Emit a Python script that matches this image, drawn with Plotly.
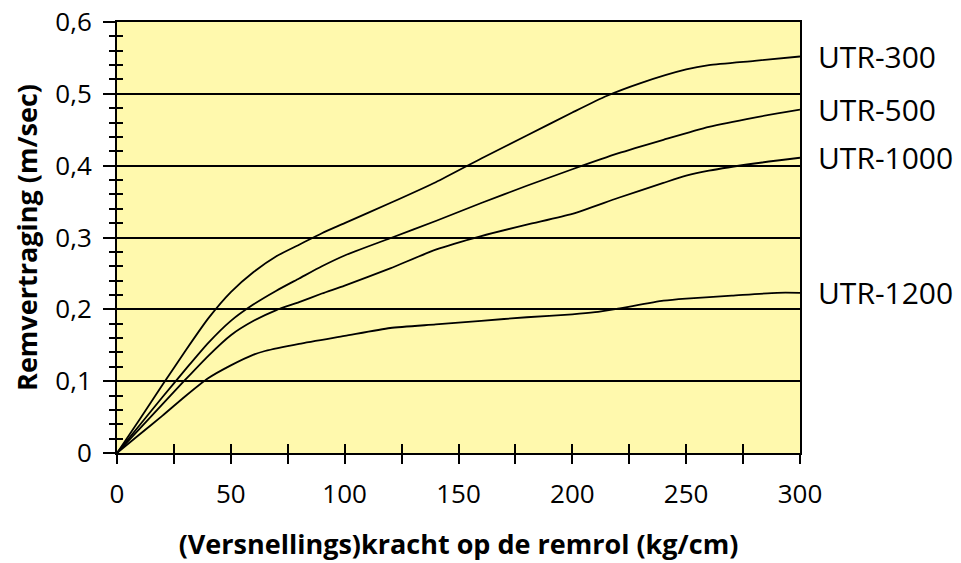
import plotly.graph_objects as go

x_utr300 = [0, 10, 20, 30, 40, 50, 60, 70, 80, 90, 100, 120, 140, 160, 180, 200, 215, 230, 250, 260, 280, 300]
y_utr300 = [0, 0.047, 0.095, 0.142, 0.187, 0.224, 0.252, 0.274, 0.290, 0.306, 0.320, 0.348, 0.377, 0.410, 0.442, 0.474, 0.497, 0.515, 0.534, 0.540, 0.546, 0.552]

x_utr500 = [0, 10, 20, 30, 40, 50, 60, 70, 80, 90, 100, 120, 140, 160, 180, 200, 220, 240, 260, 280, 300]
y_utr500 = [0, 0.039, 0.078, 0.116, 0.153, 0.184, 0.207, 0.226, 0.243, 0.260, 0.275, 0.299, 0.323, 0.348, 0.372, 0.395, 0.417, 0.436, 0.454, 0.467, 0.478]

x_utr1000 = [0, 10, 20, 30, 40, 50, 60, 70, 80, 90, 100, 120, 140, 160, 180, 200, 220, 240, 250, 260, 280, 300]
y_utr1000 = [0, 0.034, 0.068, 0.102, 0.135, 0.164, 0.184, 0.199, 0.210, 0.222, 0.233, 0.257, 0.283, 0.302, 0.318, 0.333, 0.355, 0.376, 0.386, 0.393, 0.403, 0.411]

x_utr1200 = [0, 10, 20, 30, 40, 50, 60, 65, 80, 100, 120, 140, 160, 180, 200, 210, 220, 240, 250, 270, 290, 300]
y_utr1200 = [0, 0.026, 0.052, 0.079, 0.104, 0.122, 0.137, 0.142, 0.152, 0.163, 0.174, 0.179, 0.184, 0.189, 0.193, 0.196, 0.201, 0.212, 0.215, 0.219, 0.223, 0.223]

series = [
    ("UTR-300", x_utr300, y_utr300),
    ("UTR-500", x_utr500, y_utr500),
    ("UTR-1000", x_utr1000, y_utr1000),
    ("UTR-1200", x_utr1200, y_utr1200),
]

y_tickvals = [0, 0.1, 0.2, 0.3, 0.4, 0.5, 0.6]
y_ticktext = ["0", "0,1", "0,2", "0,3", "0,4", "0,5", "0,6"]
x_tickvals = [0, 50, 100, 150, 200, 250, 300]
x_ticktext = ["0", "50", "100", "150", "200", "250", "300"]

x_title = "(Versnellings)kracht op de remrol (kg/cm)"
y_title = "Remvertraging (m/sec)"

FONT = "Open Sans"
fig = go.Figure()
for name, xs, ys in series:
    fig.add_trace(go.Scatter(x=xs, y=ys, mode="lines", name=name,
                             line=dict(color="black", width=1.8, shape="spline", smoothing=0.6),
                             xaxis="x2", yaxis="y2", showlegend=False, hoverinfo="skip"))
    fig.add_annotation(x=xs[-1], y=ys[-1], xref="x", yref="y", text=name, showarrow=False,
                       xanchor="left", yanchor="middle", xshift=16,
                       font=dict(family=FONT, size=30, color="black"))

rng_x = [0, 300]
rng_y = [0, 0.6]
fig.update_layout(
    width=961, height=563,
    margin=dict(l=117, r=161, t=22, b=110, autoexpand=False),
    paper_bgcolor="white", plot_bgcolor="#FFF9AD",
    font=dict(family=FONT, color="black"),
    xaxis=dict(range=rng_x, tickmode="array", tickvals=x_tickvals, ticktext=x_ticktext,
               ticks="outside", ticklen=9, tickwidth=1.5, tickcolor="black",
               minor=dict(tickmode="linear", tick0=0, dtick=25, ticks="outside", ticklen=9,
                          tickwidth=1.5, tickcolor="black", showgrid=False),
               showline=True, linecolor="black", linewidth=2, mirror=True, showgrid=False,
               zeroline=False, tickfont=dict(family=FONT, size=26),
               ticklabelstandoff=8, ticklabeloverflow="allow",
               title=dict(text="<b>" + x_title + "</b>", font=dict(family=FONT, size=27), standoff=25)),
    yaxis=dict(range=rng_y, tickmode="array", tickvals=y_tickvals, ticktext=y_ticktext,
               ticks="outside", ticklen=12, tickwidth=1.5, tickcolor="black",
               minor=dict(tickmode="linear", tick0=0, dtick=0.02, ticks="outside", ticklen=6,
                          tickwidth=1.5, tickcolor="black", showgrid=False),
               showline=True, linecolor="black", linewidth=2, mirror=True,
               showgrid=True, gridcolor="black", gridwidth=1.5, zeroline=False,
               tickfont=dict(family=FONT, size=26), ticklabelstandoff=6, ticklabeloverflow="allow",
               title=dict(text="<b>" + y_title + "</b>", font=dict(family=FONT, size=27), standoff=10)),
    xaxis2=dict(range=rng_x, overlaying="x", side="bottom", tickmode="linear", tick0=0, dtick=25,
                ticks="inside", ticklen=9, tickwidth=1.5, tickcolor="black",
                showticklabels=False, showgrid=False, showline=False, zeroline=False),
    yaxis2=dict(range=rng_y, overlaying="y", side="left", tickmode="linear", tick0=0, dtick=0.02,
                ticks="inside", ticklen=6, tickwidth=1.5, tickcolor="black",
                showticklabels=False, showgrid=False, showline=False, zeroline=False),
)

fig.write_html("out.html", config={"displayModeBar": False},
               post_script="document.body.style.margin='0px';document.body.style.overflow='hidden';")
